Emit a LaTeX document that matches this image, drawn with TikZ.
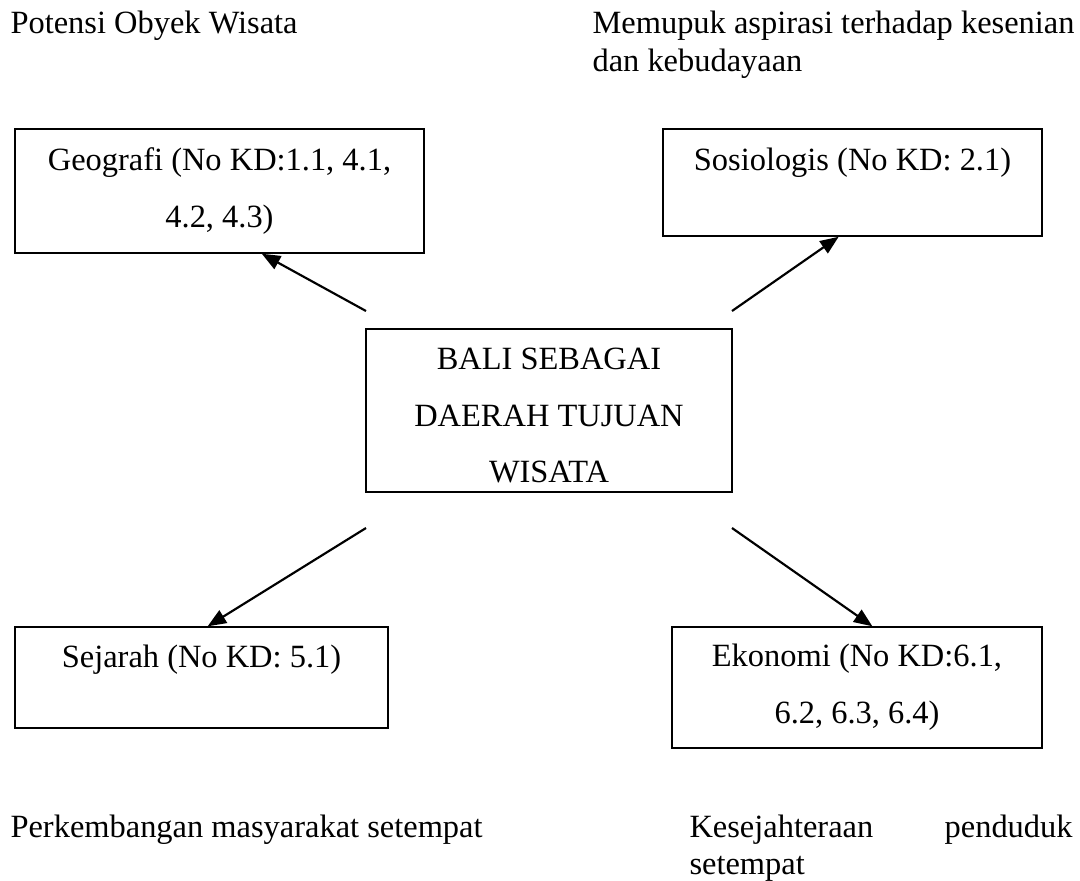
\documentclass[tikz,border=0pt]{standalone}
\usepackage{fontspec}
\setmainfont{Liberation Serif}
\usetikzlibrary{arrows.meta}

\begin{document}
\begin{tikzpicture}[x=0.013cm,y=-0.013cm,>={Triangle[length=2.4mm,width=1.9mm]}]
  \useasboundingbox (0,0) rectangle (1080,880);

  % kotak
  \begin{scope}[every node/.style={draw,line width=0.6pt,inner sep=0pt,align=center,font=\fontsize{12}{21}\selectfont}]
    \node (geo) [minimum width=5.32cm,minimum height=1.61cm] at (219.5,191) {Geografi (No KD:1.1, 4.1,\\4.2, 4.3)};
    \node (sos) [minimum width=4.93cm,minimum height=1.39cm] at (852.5,182.5) {\raisebox{0.16cm}[0pt][0pt]{Sosiologis (No KD: 2.1)}};
    \node (bali) [minimum width=4.76cm,minimum height=2.12cm] at (549,410.5) {\rule{0pt}{0.41cm}BALI SEBAGAI\\DAERAH TUJUAN\\WISATA};
    \node (sej) [minimum width=4.85cm,minimum height=1.31cm] at (201.5,677.5) {\raisebox{0.13cm}[0pt][0pt]{Sejarah (No KD: 5.1)}};
    \node (eko) [minimum width=4.81cm,minimum height=1.57cm] at (857,687.5) {Ekonomi (No KD:6.1,\\6.2, 6.3, 6.4)};
  \end{scope}

  % keterangan
  \begin{scope}[every node/.style={inner sep=0pt,align=left,font=\fontsize{12}{14}\selectfont}]
    \node (potensi) [anchor=base west] at (10,33) {Potensi Obyek Wisata};
    \node (memupuk) [anchor=base west] at (592,71) {Memupuk aspirasi terhadap kesenian\\dan kebudayaan};
    \node (kembang) [anchor=base west] at (10,837) {Perkembangan masyarakat setempat};
    \node (sejahtera) [anchor=base west,text width=4.98cm] at (689,837) {Kesejahteraan\hfill penduduk\\setempat};
  \end{scope}

  \coordinate (ul) at (366,311);
  \coordinate (ur) at (732,311);
  \coordinate (dl) at (366,528);
  \coordinate (dr) at (732,528);

  \path [->,line width=0.8pt] (ul) edge ([xshift=0.55cm]geo.south);
  \path [->,line width=0.8pt] (ur) edge ([xshift=-0.18cm]sos.south);
  \path [->,line width=0.8pt] (dl) edge ([xshift=0.08cm]sej.north);
  \path [->,line width=0.8pt] (dr) edge ([xshift=0.2cm]eko.north);
\end{tikzpicture}
\end{document}
